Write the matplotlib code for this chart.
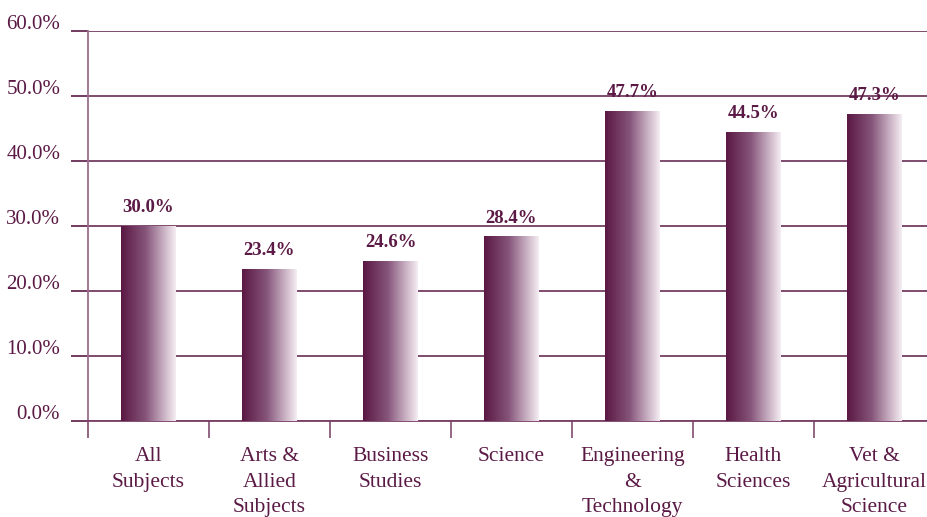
import matplotlib.pyplot as plt
import numpy as np
from matplotlib.colors import LinearSegmentedColormap
from matplotlib.transforms import ScaledTranslation

# data
categories = ["All\nSubjects", "Arts &\nAllied\nSubjects", "Business\nStudies",
              "Science", "Engineering\n&\nTechnology", "Health\nSciences",
              "Vet &\nAgricultural\nScience"]
values = [30.0, 23.4, 24.6, 28.4, 47.7, 44.5, 47.3]
yticks = [0, 10, 20, 30, 40, 50, 60]

plum = "#5b1a45"
plt.rcParams["font.family"] = ["Liberation Serif", "DejaVu Serif"]

fig = plt.figure(figsize=(9.27, 5.17), dpi=100)
ax = fig.add_axes([88 / 927, 96 / 517, 847 / 927, 390 / 517])

cmap = LinearSegmentedColormap.from_list(
    "fade", [(0, "#5a1843"), (0.45, "#86557a"), (1, "#f6eef3")])
grad = np.linspace(0, 1, 256).reshape(1, -1)

x = np.arange(len(values))
bars = ax.bar(x, values, width=0.45, color="none", edgecolor="none", zorder=3)
for b, v in zip(bars, values):
    x0 = b.get_x()
    im = ax.imshow(grad, cmap=cmap, aspect="auto", zorder=3,
                   extent=[x0, x0 + b.get_width(), 0, b.get_height()])
    im.set_clip_path(b)
    ax.annotate(f"{v:.1f}%", (b.get_x() + b.get_width() / 2, v),
                xytext=(0, 7), textcoords="offset points",
                ha="center", va="bottom", fontsize=13.5, fontweight="bold",
                color=plum)

ax.set_xlim(-0.5, 6.5)
ax.set_ylim(0, 60)

# axes & grid
for s in ["top", "right"]:
    ax.spines[s].set_visible(False)
ax.spines["left"].set_color("#9b6d8c")
ax.spines["left"].set_linewidth(1.3)
ax.spines["bottom"].set_color("#7a3f66")
ax.spines["bottom"].set_linewidth(1.3)

ax.set_yticks(yticks)
ax.set_yticklabels([f"{t:.1f}%" for t in yticks], fontsize=15, color=plum)
ax.tick_params(axis="y", length=12, width=1.2, color=plum, pad=8)
ax.yaxis.grid(True, color=plum, linewidth=1.1)
ax.set_axisbelow(True)
off = ScaledTranslation(0, 9 / 100, fig.dpi_scale_trans)
for lab in ax.get_yticklabels():
    lab.set_transform(lab.get_transform() + off)

ax.set_xticks(x)
ax.set_xticklabels(categories, fontsize=15.5, color=plum, linespacing=1.45)
ax.tick_params(axis="x", length=0, pad=19)
ax.set_xticks(np.arange(-0.5, 7, 1), minor=True)
ax.tick_params(axis="x", which="minor", length=12, width=1.3, color="#8a5a7a")

fig.savefig("out.png", dpi=100)
